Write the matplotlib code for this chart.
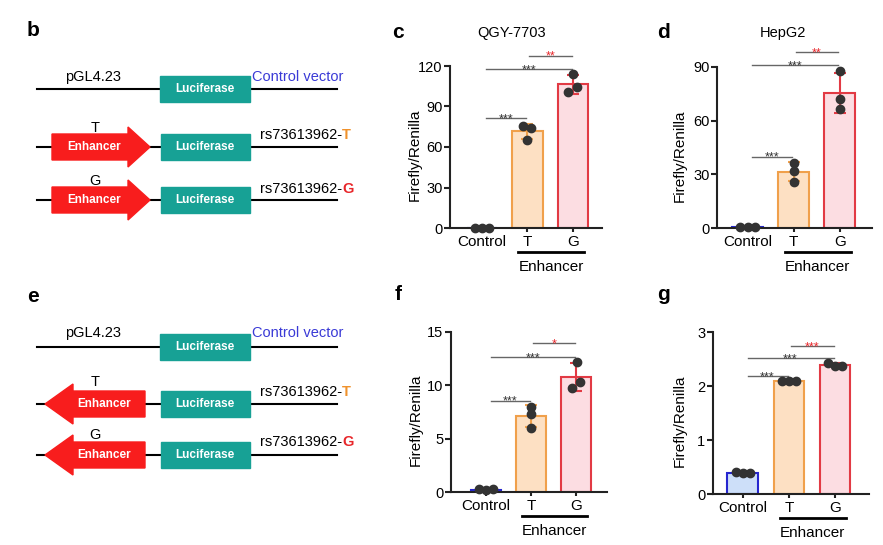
import numpy as np
import matplotlib
matplotlib.use("Agg")
import matplotlib.pyplot as plt
from matplotlib.patches import Rectangle, Polygon

plt.rcParams['font.family'] = ['Liberation Sans', 'DejaVu Sans']

W, H = 883, 545

categories = ["Control", "T", "G"]
group_label = "Enhancer"
c_title = "QGY-7703"
d_title = "HepG2"
ylabel = "Firefly/Renilla"

# replicate values
c_points = [[0.3, 0.3, 0.3], [75.8, 73.8, 65.2], [114.0, 104.2, 101.0]]
d_points = [[0.7, 0.6, 0.7], [36.5, 32.0, 26.0], [87.8, 71.8, 66.3]]
f_points = [[0.24, 0.22, 0.24], [8.0, 7.3, 6.0], [12.2, 10.3, 9.7]]
g_points = [[0.40, 0.39, 0.39], [2.10, 2.09, 2.09], [2.43, 2.38, 2.38]]

c_yticks = [0, 30, 60, 90, 120]
d_yticks = [0, 30, 60, 90]
f_yticks = [0, 5, 10, 15]
g_yticks = [0, 1, 2, 3]

# significance brackets: (from, to, height, stars)
c_sig = [(0, 1, 81.5, "***"), (0, 2, 117.8, "***"), (1, 2, 127.6, "**")]
d_sig = [(0, 1, 39.9, "***"), (0, 2, 91.0, "***"), (1, 2, 98.0, "**")]
f_sig = [(0, 1, 8.54, "***"), (0, 2, 12.6, "***"), (1, 2, 13.9, "*")]
g_sig = [(0, 1, 2.19, "***"), (0, 2, 2.52, "***"), (1, 2, 2.75, "***")]

# construct diagram text
vector_name = "pGL4.23"
control_name = "Control vector"
snp_name = "rs73613962-"
alleles = ["T", "G"]

# colours
edge_cols = ['#2626cf', '#f0a04b', '#e23a44']
fill_cols = ['#cddff9', '#fde0c3', '#fcdde2']
allele_cols = {'T': '#f0922c', 'G': '#e8262a'}
teal = '#17a195'
enh_red = '#f81d1d'
star_dark = '#333333'
star_red = '#e8262a'

fig = plt.figure(figsize=(W / 100, H / 100), dpi=100)
ax_d = fig.add_axes([0, 0, 1, 1], zorder=0)
ax_d.set_xlim(0, W)
ax_d.set_ylim(H, 0)
ax_d.axis('off')


def px_rect(l, t, r, b):
    return [l / W, 1 - b / H, (r - l) / W, (b - t) / H]


def draw_construct(y_lines, y_top_labels, y_rs, y_allele, arrow_right):
    # control vector
    y = y_lines[0]
    ax_d.plot([37, 337], [y, y], color='black', lw=1.5, zorder=1)
    ax_d.add_patch(Rectangle((160, y - 13), 90, 26, color=teal, zorder=2))
    ax_d.text(205, y, "Luciferase", color='white', fontsize=8.5, fontweight='bold',
              ha='center', va='center', zorder=3)
    ax_d.text(65, y_top_labels, vector_name, fontsize=10.5, ha='left', va='center')
    ax_d.text(252, y_top_labels, control_name, fontsize=10.5, color='#3a3ad6',
              ha='left', va='center')
    for k, al in enumerate(alleles):
        y = y_lines[k + 1]
        ax_d.plot([37, 337], [y, y], color='black', lw=1.5, zorder=1)
        if arrow_right:
            pts = [(52, y - 13), (128, y - 13), (128, y - 20), (150, y),
                   (128, y + 20), (128, y + 13), (52, y + 13)]
            tx = 94
        else:
            pts = [(145, y - 13), (73, y - 13), (73, y - 20), (45, y),
                   (73, y + 20), (73, y + 13), (145, y + 13)]
            tx = 104
        ax_d.add_patch(Polygon(pts, closed=True, color=enh_red, zorder=2))
        ax_d.text(tx, y, "Enhancer", color='white', fontsize=8.5, fontweight='bold',
                  ha='center', va='center', zorder=3)
        ax_d.add_patch(Rectangle((161, y - 13), 89, 26, color=teal, zorder=2))
        ax_d.text(205, y, "Luciferase", color='white', fontsize=8.5, fontweight='bold',
                  ha='center', va='center', zorder=3)
        ax_d.text(95, y_allele[k], al, fontsize=10.5, ha='center', va='center')
        ax_d.text(342, y_rs[k], snp_name, fontsize=10.5, ha='right', va='center')
        ax_d.text(342, y_rs[k], al, fontsize=10.5, fontweight='bold',
                  color=allele_cols[al], ha='left', va='center')


draw_construct([89, 147, 200], 77, [135, 189], [128, 181], True)
draw_construct([347, 404, 455], 333, [392, 442], [382, 435], False)

for letter, (lx, ly) in zip("bcdefg", [(33, 30), (398, 33), (663, 33),
                                      (33, 296), (398, 295), (663, 295)]):
    ax_d.text(lx, ly, letter, fontsize=15, fontweight='bold', ha='center', va='center')
ax_d.text(512, 33, c_title, fontsize=10.5, ha='center', va='center')
ax_d.text(783, 33, d_title, fontsize=10.5, ha='center', va='center')


def bar_panel(rect, points, yticks, sig, jitter, xlim, label_dx):
    l, t, r, b = rect
    hpx = b - t
    ax = fig.add_axes(px_rect(*rect), zorder=2)
    ax.patch.set_alpha(0)
    x = np.arange(len(categories))
    pts = np.array(points)
    means = pts.mean(axis=1)
    sds = pts.std(axis=1, ddof=1)
    ax.bar(x, means, width=0.67, color=fill_cols, edgecolor=edge_cols,
           linewidth=1.5, zorder=2)
    for i in x:
        ax.errorbar(i, means[i], yerr=sds[i], fmt='none', ecolor=edge_cols[i],
                    elinewidth=1.5, capsize=4, capthick=1.5, zorder=3)
        ax.plot(i + np.array(jitter[i]), pts[i], 'o', color='#333333', ms=6,
                zorder=4, clip_on=False)
    for i, j, yv, stars in sig:
        x0 = i + (0.1 if i == 0 else 0.04)
        x1 = j - 0.03
        ax.plot([x0, x1], [yv, yv], color='#666666', lw=1, clip_on=False)
        col = star_red if (i, j) == (1, 2) else star_dark
        ax.annotate(stars, xy=((x0 + x1) / 2, yv), xytext=(0, -3),
                    textcoords='offset points', ha='center', va='baseline',
                    fontsize=9, color=col, annotation_clip=False)
    ax.set_xlim(*xlim)
    ax.set_ylim(yticks[0], yticks[-1])
    ax.set_yticks(yticks)
    ax.set_xticks(x)
    ax.set_xticklabels(categories)
    for s in ['top', 'right']:
        ax.spines[s].set_visible(False)
    for s in ['left', 'bottom']:
        ax.spines[s].set_linewidth(1.5)
        ax.spines[s].set_color('#222222')
    ax.tick_params(axis='y', length=4, width=1.5, labelsize=10.5, pad=1.5, color='#222222')
    ax.tick_params(axis='x', length=3, width=1.5, labelsize=11, pad=2, color='#222222')
    ax.set_ylabel(ylabel, fontsize=11)
    ax.yaxis.set_label_coords(-label_dx / (r - l), 0.45)
    tr = ax.get_xaxis_transform()
    ax.plot([0.8, 2.25], [-24 / hpx, -24 / hpx], color='black', lw=2,
            transform=tr, clip_on=False)
    ax.text(1.52, -39 / hpx, group_label, transform=tr, fontsize=11,
            ha='center', va='center')
    return ax


c_jit = [[-0.16, 0, 0.16], [-0.1, 0.08, 0], [0, 0.1, -0.1]]
d_jit = [[-0.16, 0, 0.16], [0, 0, 0], [0, 0, 0]]
f_jit = [[-0.16, 0, 0.16], [0, 0, 0], [0.03, 0.1, -0.08]]
g_jit = [[-0.15, 0, 0.16], [-0.15, 0, 0.16], [-0.15, 0, 0.15]]

bar_panel((450, 66, 602, 228), c_points, c_yticks, c_sig, c_jit, (-0.70, 2.64), 28)
bar_panel((717, 66.7, 872, 228.3), d_points, d_yticks, d_sig, d_jit, (-0.67, 2.70), 30)
bar_panel((451, 331.7, 607, 492), f_points, f_yticks, f_sig, f_jit, (-0.78, 2.69), 28)
bar_panel((713, 332.3, 869, 494), g_points, g_yticks, g_sig, g_jit, (-0.65, 2.74), 26)

fig.savefig("out.png", dpi=100)
